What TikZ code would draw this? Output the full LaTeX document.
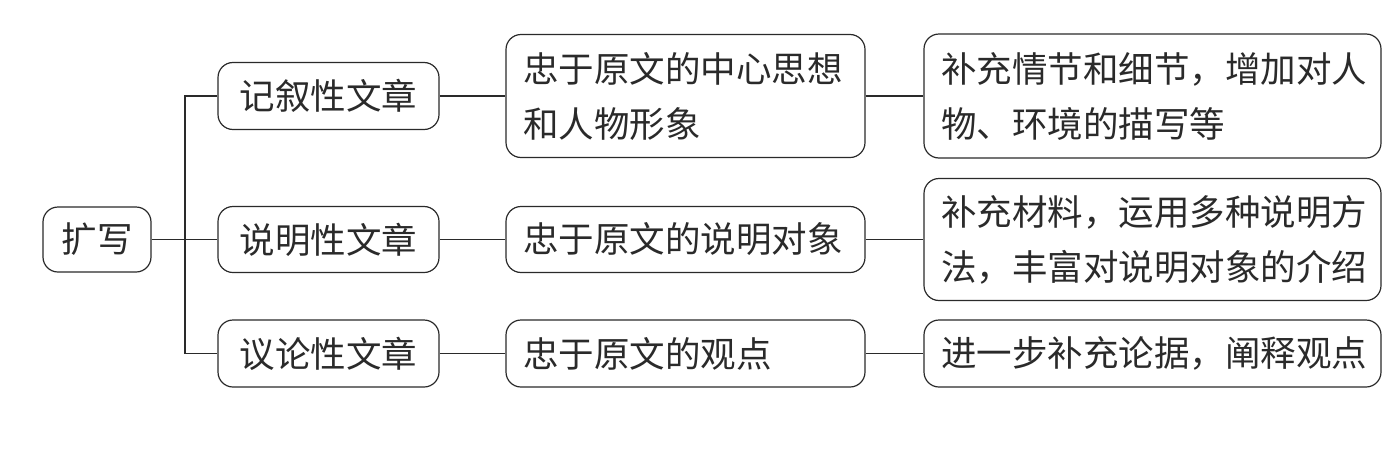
\documentclass[tikz,border=0pt]{standalone}
\usepackage{fontspec}
\newfontfamily\cjk{Noto Sans CJK SC}
\definecolor{ink}{HTML}{2A2A2A}
\begin{document}
\begin{tikzpicture}[x=1pt,y=-1pt,
  box/.style={draw=ink, line width=1.2pt, rounded corners=15pt, text=ink,
    font=\cjk\fontsize{35.5}{55}\selectfont, inner sep=0pt, anchor=center},
  lbox/.style={box, align=left, inner xsep=17pt},
  conn/.style={draw=ink, line width=1.2pt}]
\useasboundingbox (0,0) rectangle (1386,458);
% root
\node[box, minimum width=108pt, minimum height=65pt] (root) at (97,239.5) {扩写};
% level 1
\node[box, minimum width=221pt, minimum height=67pt] (a1) at (328.5,96) {记叙性文章};
\node[box, minimum width=221pt, minimum height=66pt] (a2) at (328.5,239.5) {说明性文章};
\node[box, minimum width=221pt, minimum height=67pt] (a3) at (328.5,353.5) {议论性文章};
% level 2
\node[lbox, minimum width=359pt, minimum height=123pt, text width=325pt] (b1) at (685.5,96) {忠于原文的中心思想\\和人物形象};
\node[lbox, minimum width=359pt, minimum height=66pt, text width=325pt] (b2) at (685.5,239.5) {忠于原文的说明对象};
\node[lbox, minimum width=359pt, minimum height=67pt, text width=325pt] (b3) at (685.5,353.5) {忠于原文的观点};
% level 3
\node[lbox, minimum width=457pt, minimum height=124pt, text width=423pt] (c1) at (1152.5,96) {补充情节和细节，增加对人\\物、环境的描写等};
\node[lbox, minimum width=457pt, minimum height=122pt, text width=423pt] (c2) at (1152.5,239.5) {补充材料，运用多种说明方\\法，丰富对说明对象的介绍};
\node[lbox, minimum width=457pt, minimum height=67pt, text width=423pt] (c3) at (1152.5,353.5) {进一步补充论据，阐释观点};
% connectors
\coordinate (j) at (185,239.5);
\draw[conn] (root.east) -- (a2.west);
\draw[conn] (j) |- (a1.west);
\draw[conn] (j) |- (a3.west);
\draw[conn] (a1.east) -- (b1.west);
\draw[conn] (a2.east) -- (b2.west);
\draw[conn] (a3.east) -- (b3.west);
\draw[conn] (b1.east) -- (c1.west);
\draw[conn] (b2.east) -- (c2.west);
\draw[conn] (b3.east) -- (c3.west);
\end{tikzpicture}
\end{document}
